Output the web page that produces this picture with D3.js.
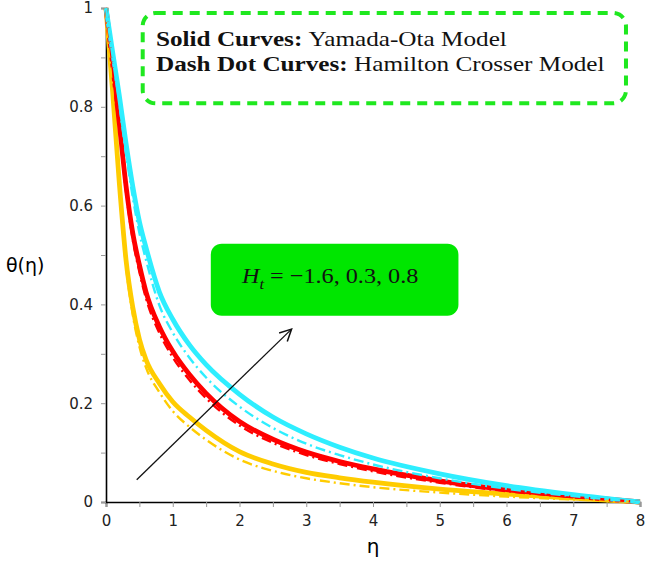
<!DOCTYPE html>
<html>
<head>
<meta charset="utf-8">
<script src="https://cdn.jsdelivr.net/npm/d3@7"></script>
<style>
	body { margin: 0; background: #fff; }
	svg { display: block; }
</style>
</head>
<body>
<svg id="chart" width="647" height="561"></svg>
<script>
// eta grid shared by all curves
var eta = [0, 0.1, 0.2, 0.3, 0.4, 0.5, 0.6, 0.8, 1.0, 1.25, 1.5, 2, 2.5, 3, 3.5, 4, 5, 6, 7, 8];

// Yamada-Ota (solid)
var cyanSolid = [1, 0.91, 0.822, 0.726, 0.64, 0.568, 0.515, 0.425, 0.37, 0.318, 0.278, 0.218, 0.172, 0.138, 0.111, 0.089, 0.057, 0.033, 0.015, 0];
var redSolid  = [1, 0.885, 0.765, 0.64, 0.545, 0.48, 0.425, 0.355, 0.305, 0.258, 0.22, 0.163, 0.127, 0.101, 0.082, 0.067, 0.043, 0.025, 0.012, 0];
var goldSolid = [1, 0.83, 0.645, 0.49, 0.395, 0.33, 0.288, 0.24, 0.203, 0.172, 0.145, 0.102, 0.077, 0.06, 0.049, 0.04, 0.026, 0.016, 0.008, 0];

// Hamilton Crosser (dash dot)
var cyanDash = [1, 0.9, 0.805, 0.705, 0.618, 0.545, 0.49, 0.398, 0.343, 0.292, 0.252, 0.193, 0.15, 0.118, 0.095, 0.076, 0.048, 0.027, 0.012, 0];
var redDash  = [1, 0.88, 0.755, 0.628, 0.532, 0.466, 0.412, 0.342, 0.293, 0.247, 0.21, 0.155, 0.12, 0.095, 0.077, 0.062, 0.039, 0.022, 0.01, 0];
var goldDash = [1, 0.825, 0.635, 0.478, 0.38, 0.315, 0.272, 0.222, 0.184, 0.152, 0.126, 0.086, 0.063, 0.048, 0.038, 0.03, 0.019, 0.011, 0.005, 0];

var xTicks = [0, 1, 2, 3, 4, 5, 6, 7, 8];
var yTicks = [0, 0.2, 0.4, 0.6, 0.8, 1];
var legendLines = [['Solid Curves: ', 'Yamada-Ota Model'], ['Dash Dot Curves: ', 'Hamilton Crosser Model']];
var noteText = ['H', 't', ' = \u22121.6, 0.3, 0.8'];

var svg = d3.select('#chart');

var x = d3.scaleLinear().domain([0, 8]).range([106, 640]);
var y = d3.scaleLinear().domain([0, 1]).range([502, 8]);

var series = [
	{vals: goldSolid, color: '#ffcc00', dash: false},
	{vals: redSolid, color: '#ff0000', dash: false},
	{vals: cyanSolid, color: '#2eeeff', dash: false},
	{vals: goldDash, color: '#ffcc00', dash: true},
	{vals: redDash, color: '#ff0000', dash: true},
	{vals: cyanDash, color: '#2eeeff', dash: true}
];

var line = d3.line()
	.x(function(d) {return x(d[0])})
	.y(function(d) {return y(d[1])})
	.curve(d3.curveMonotoneX);

// axes
var xAxis = d3.axisBottom(x).tickValues(d3.range(0, 8.01, 0.5)).tickSize(5)
	.tickFormat(function(d) {return xTicks.indexOf(d) >= 0 ? d : ''});
var yAxis = d3.axisLeft(y).tickValues(d3.range(0, 1.01, 0.1).map(function(v) {return Math.round(v * 10) / 10})).tickSize(5)
	.tickFormat(function(d) {return yTicks.indexOf(d) >= 0 ? (d === 0 || d === 1 ? d : d3.format('.1f')(d)) : ''});

var gx = svg.append('g').attr('transform', 'translate(0,' + y(0) + ')').call(xAxis);
var gy = svg.append('g').attr('transform', 'translate(' + x(0) + ',0)').call(yAxis);

[gx, gy].forEach(function(g) {
	g.select('.domain').attr('stroke', '#000').attr('stroke-width', 1.6);
	g.selectAll('.tick line').attr('stroke', '#999');
	g.selectAll('.tick text')
		.style('font-family', 'DejaVu Sans')
		.style('font-size', '15px')
		.attr('fill', '#222');
});
gx.selectAll('.tick text').attr('dy', '1.05em');
gy.selectAll('.tick text').attr('x', -13);

// curves
svg.append('g').selectAll('path')
	.data(series)
	.enter().append('path')
		.attr('d', function(s) {return line(eta.map(function(e, i) {return [e, s.vals[i]]}))})
		.attr('fill', 'none')
		.attr('stroke', function(s) {return s.color})
		.attr('stroke-width', function(s) {return s.dash ? 2.4 : 4.8})
		.attr('stroke-dasharray', function(s) {return s.dash ? '10,4,2,4' : null});

// axis labels
svg.append('text')
	.attr('x', x(4)).attr('y', 553)
	.attr('text-anchor', 'middle')
	.style('font-family', 'DejaVu Sans').style('font-size', '20px')
	.text('\u03b7');
svg.append('text')
	.attr('x', 6).attr('y', 272)
	.style('font-family', 'DejaVu Sans').style('font-size', '19px')
	.text('\u03b8(\u03b7)');

// legend box
svg.append('rect')
	.attr('x', x(0.55)).attr('y', y(0.99))
	.attr('width', x(7.79) - x(0.55)).attr('height', y(0.807) - y(0.99))
	.attr('rx', 13)
	.attr('fill', 'none')
	.attr('stroke', '#1fe81f')
	.attr('stroke-width', 4)
	.attr('stroke-dasharray', '10,7');

// text in the source is stretched sideways, so scale it
var legend = svg.append('g')
	.attr('transform', 'translate(156,0) scale(1.2,1)')
	.selectAll('text')
	.data(legendLines)
	.enter().append('text')
		.attr('x', 0)
		.attr('y', function(d, i) {return 46 + i * 25})
		.style('font-family', 'Liberation Serif').style('font-size', '21px')
		.attr('fill', '#111');
legend.append('tspan').style('font-weight', 'bold').text(function(d) {return d[0]});
legend.append('tspan').text(function(d) {return d[1]});

// note box with arrow
svg.append('rect')
	.attr('x', x(1.57)).attr('y', y(0.523))
	.attr('width', x(5.28) - x(1.57)).attr('height', y(0.377) - y(0.523))
	.attr('rx', 11)
	.attr('fill', '#00e600');

var note = svg.append('text')
	.attr('transform', 'translate(242,283) scale(1.1,1)')
	.style('font-family', 'Liberation Serif').style('font-size', '22px')
	.attr('fill', '#111');
note.append('tspan').style('font-style', 'italic').text(noteText[0]);
note.append('tspan').style('font-style', 'italic').style('font-size', '15px').attr('dy', 6).text(noteText[1]);
note.append('tspan').attr('dy', -6).text(noteText[2]);

svg.append('defs').append('marker')
	.attr('id', 'arr')
	.attr('viewBox', '0 0 12 12')
	.attr('refX', 11).attr('refY', 6)
	.attr('markerWidth', 14).attr('markerHeight', 14)
	.attr('markerUnits', 'userSpaceOnUse')
	.attr('orient', 'auto')
	.append('path')
		.attr('d', 'M1,1 L11,6 L1,11')
		.attr('fill', 'none')
		.attr('stroke', '#111')
		.attr('stroke-width', 1.3);

svg.append('line')
	.attr('x1', x(0.46)).attr('y1', y(0.045))
	.attr('x2', x(2.78)).attr('y2', y(0.35))
	.attr('stroke', '#111')
	.attr('stroke-width', 1.3)
	.attr('marker-end', 'url(#arr)');
</script>
</body>
</html>
